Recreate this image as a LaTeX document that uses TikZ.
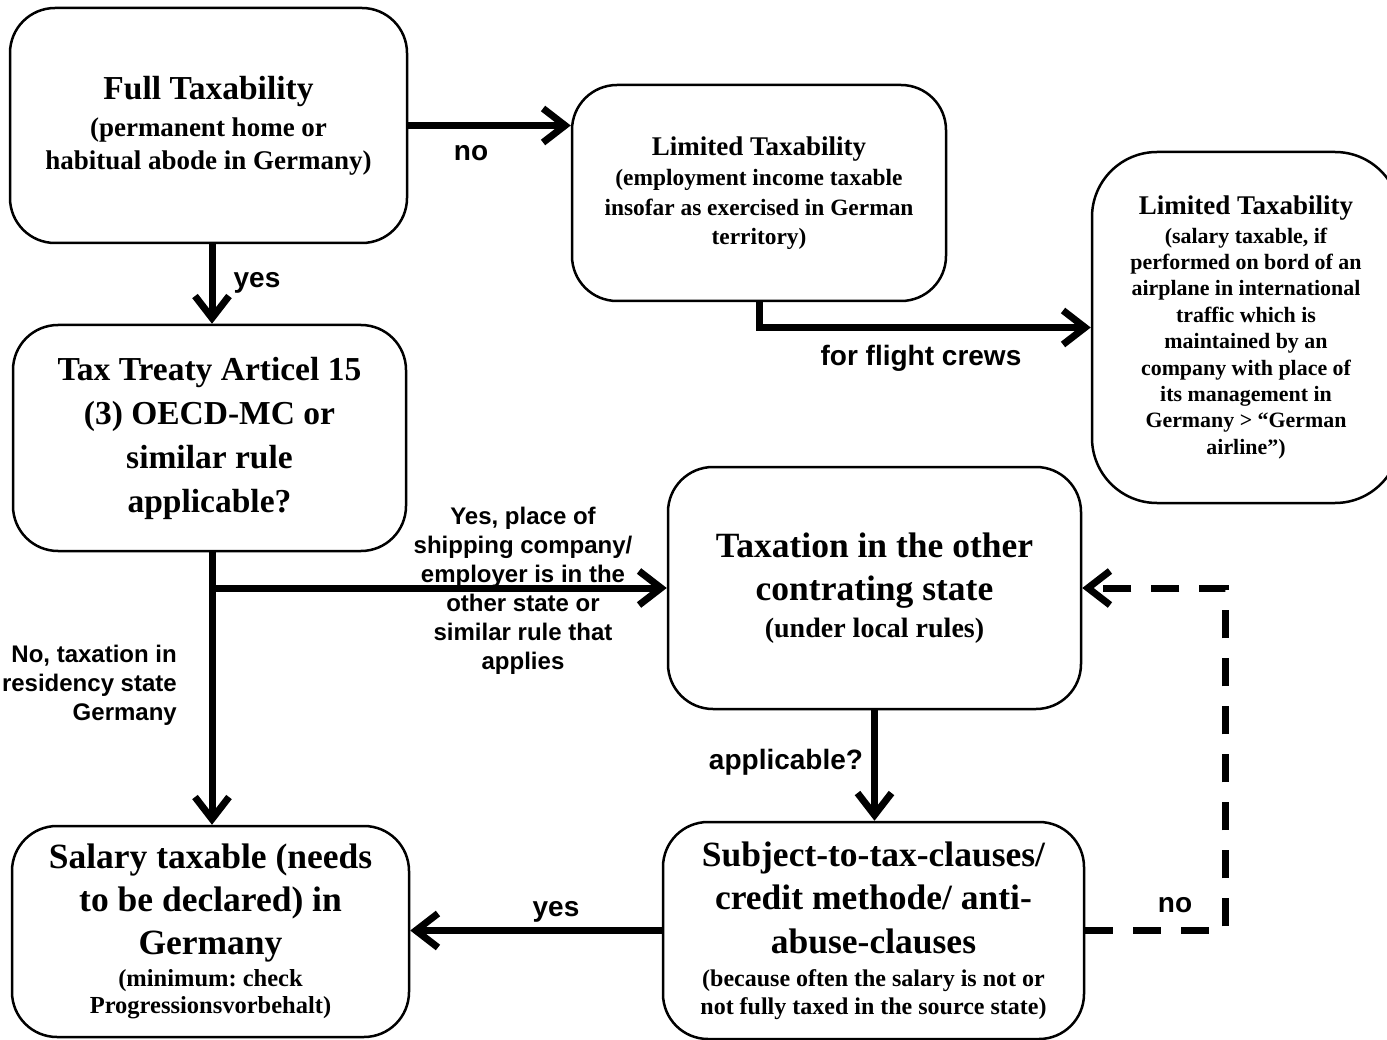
\documentclass[tikz,border=0pt]{standalone}
\usepackage{fontspec}
\setmainfont{Liberation Serif}
\newfontfamily\lblfont{Liberation Sans}
\usetikzlibrary{arrows.meta}
\newcommand\setfs[2]{\fontsize{#1}{#2}\selectfont\spaceskip=.25em\xspaceskip=.25em\relax}
\newcommand\tailgap[1]{\par\vspace{-#1}}
\begin{document}
\begin{tikzpicture}[x=1pt,y=-1pt,
  box/.style={draw, line width=2.5pt, rounded corners=45pt, align=center,
    font=\bfseries, inner sep=0pt},
  lbl/.style={font=\lblfont\bfseries\fontsize{28}{32}\selectfont, inner sep=0pt},
  lblsm/.style={font=\lblfont\bfseries\fontsize{24}{29}\selectfont, inner sep=0pt},
  conn/.style={line width=7pt, -{Straight Barb[length=22pt,width=34pt]}},
  dashconn/.style={conn, dash pattern=on 28pt off 20pt}
]
\useasboundingbox (0,0) rectangle (1387,1040);
\fill[white] (0,0) rectangle (1387,1040);
\clip (0,0) rectangle (1387,1040);

% boxes
\node[box, minimum width=397pt, minimum height=235pt, text width=385pt] (A) at (208.5,125.5)
  {\setfs{33.5}{40}Full Taxability\par\vspace{4pt}\setfs{27}{33}(permanent home or\\habitual abode in Germany)\tailgap{6pt}};
\node[box, minimum width=374pt, minimum height=216pt, text width=365pt] (B) at (759,193)
  {\setfs{27}{32}Limited Taxability\par\vspace{1pt}\setfs{23.4}{29.5}(employment income taxable\\insofar as exercised in German\\territory)\tailgap{6pt}};
\node[box, rounded corners=65pt, minimum width=308pt, minimum height=351pt, text width=295pt] (C) at (1246,327.5)
  {\setfs{27}{32}Limited Taxability\par\vspace{2pt}\setfs{21.9}{26.4}(salary taxable, if\\performed on bord of an\\airplane in international\\traffic which is\\maintained by an\\company with place of\\its management in\\Germany > \char"201C German\\airline\char"201D)\tailgap{6pt}};
\node[box, minimum width=393pt, minimum height=226pt, text width=385pt] (D) at (209.5,438)
  {\setfs{33.5}{44}Tax Treaty Articel 15\\(3) OECD-MC or\\similar rule\\applicable?\tailgap{6pt}};
\node[box, minimum width=413pt, minimum height=242pt, text width=405pt] (E) at (874.5,588)
  {\setfs{35.5}{43}Taxation in the other\\contrating state\par\vspace{4pt}\setfs{28}{33}(under local rules)\tailgap{6pt}};
\node[box, minimum width=421pt, minimum height=217pt, text width=415pt] (F) at (873.5,930.5)
  {\setfs{35.5}{43.5}Subject-to-tax-clauses/\\credit methode/ anti-\\abuse-clauses\par\vspace{5pt}\setfs{24}{28}(because often the salary is not or\\not fully taxed in the source state)\tailgap{9pt}};
\node[box, minimum width=397pt, minimum height=211pt, text width=390pt] (G) at (210.5,931.5)
  {\setfs{35.5}{43}Salary taxable (needs\\to be declared) in\\Germany\par\vspace{5pt}\setfs{24.5}{27}(minimum: check\\Progressionsvorbehalt)\tailgap{9pt}};

% labels
\node[lbl] (l1) at (471,153) {no};
\node[lbl] (l2) at (257,283) {yes};
\node[lbl] (l3) at (921,358) {for flight crews};
\node[lblsm, align=center] (l4) at (523,591) {Yes, place of\\shipping company/\\employer is in the\\other state or\\similar rule that\\applies};
\node[lblsm, align=right, anchor=east] (l5) at (177,685) {No, taxation in\\residency state\\Germany};
\node[lbl] (l6) at (786,762) {applicable?};
\node[lbl] (l7) at (556,912) {yes};
\node[lbl] (l8) at (1175,905) {no};

% connectors
\coordinate (br) at (212,588);
\coordinate (dc) at (1225,930.5);
\draw[conn] (A.east) -- (A.east -| B.west);
\draw[conn] ([xshift=3.5pt]A.south) -- ([xshift=3.5pt]A.south |- D.north);
\draw[conn] (B.south) |- (C.west);
\draw[conn] ([xshift=2.5pt]D.south) -- ([xshift=2.5pt]D.south |- G.north);
\draw[conn] (br) -- (br -| E.west);
\draw[conn] (E.south) -- (E.south |- F.north);
\draw[conn] (F.west) -- (F.west -| G.east);
\draw[dashconn] (F.east) -- (dc) |- (E.east);
\end{tikzpicture}
\end{document}
